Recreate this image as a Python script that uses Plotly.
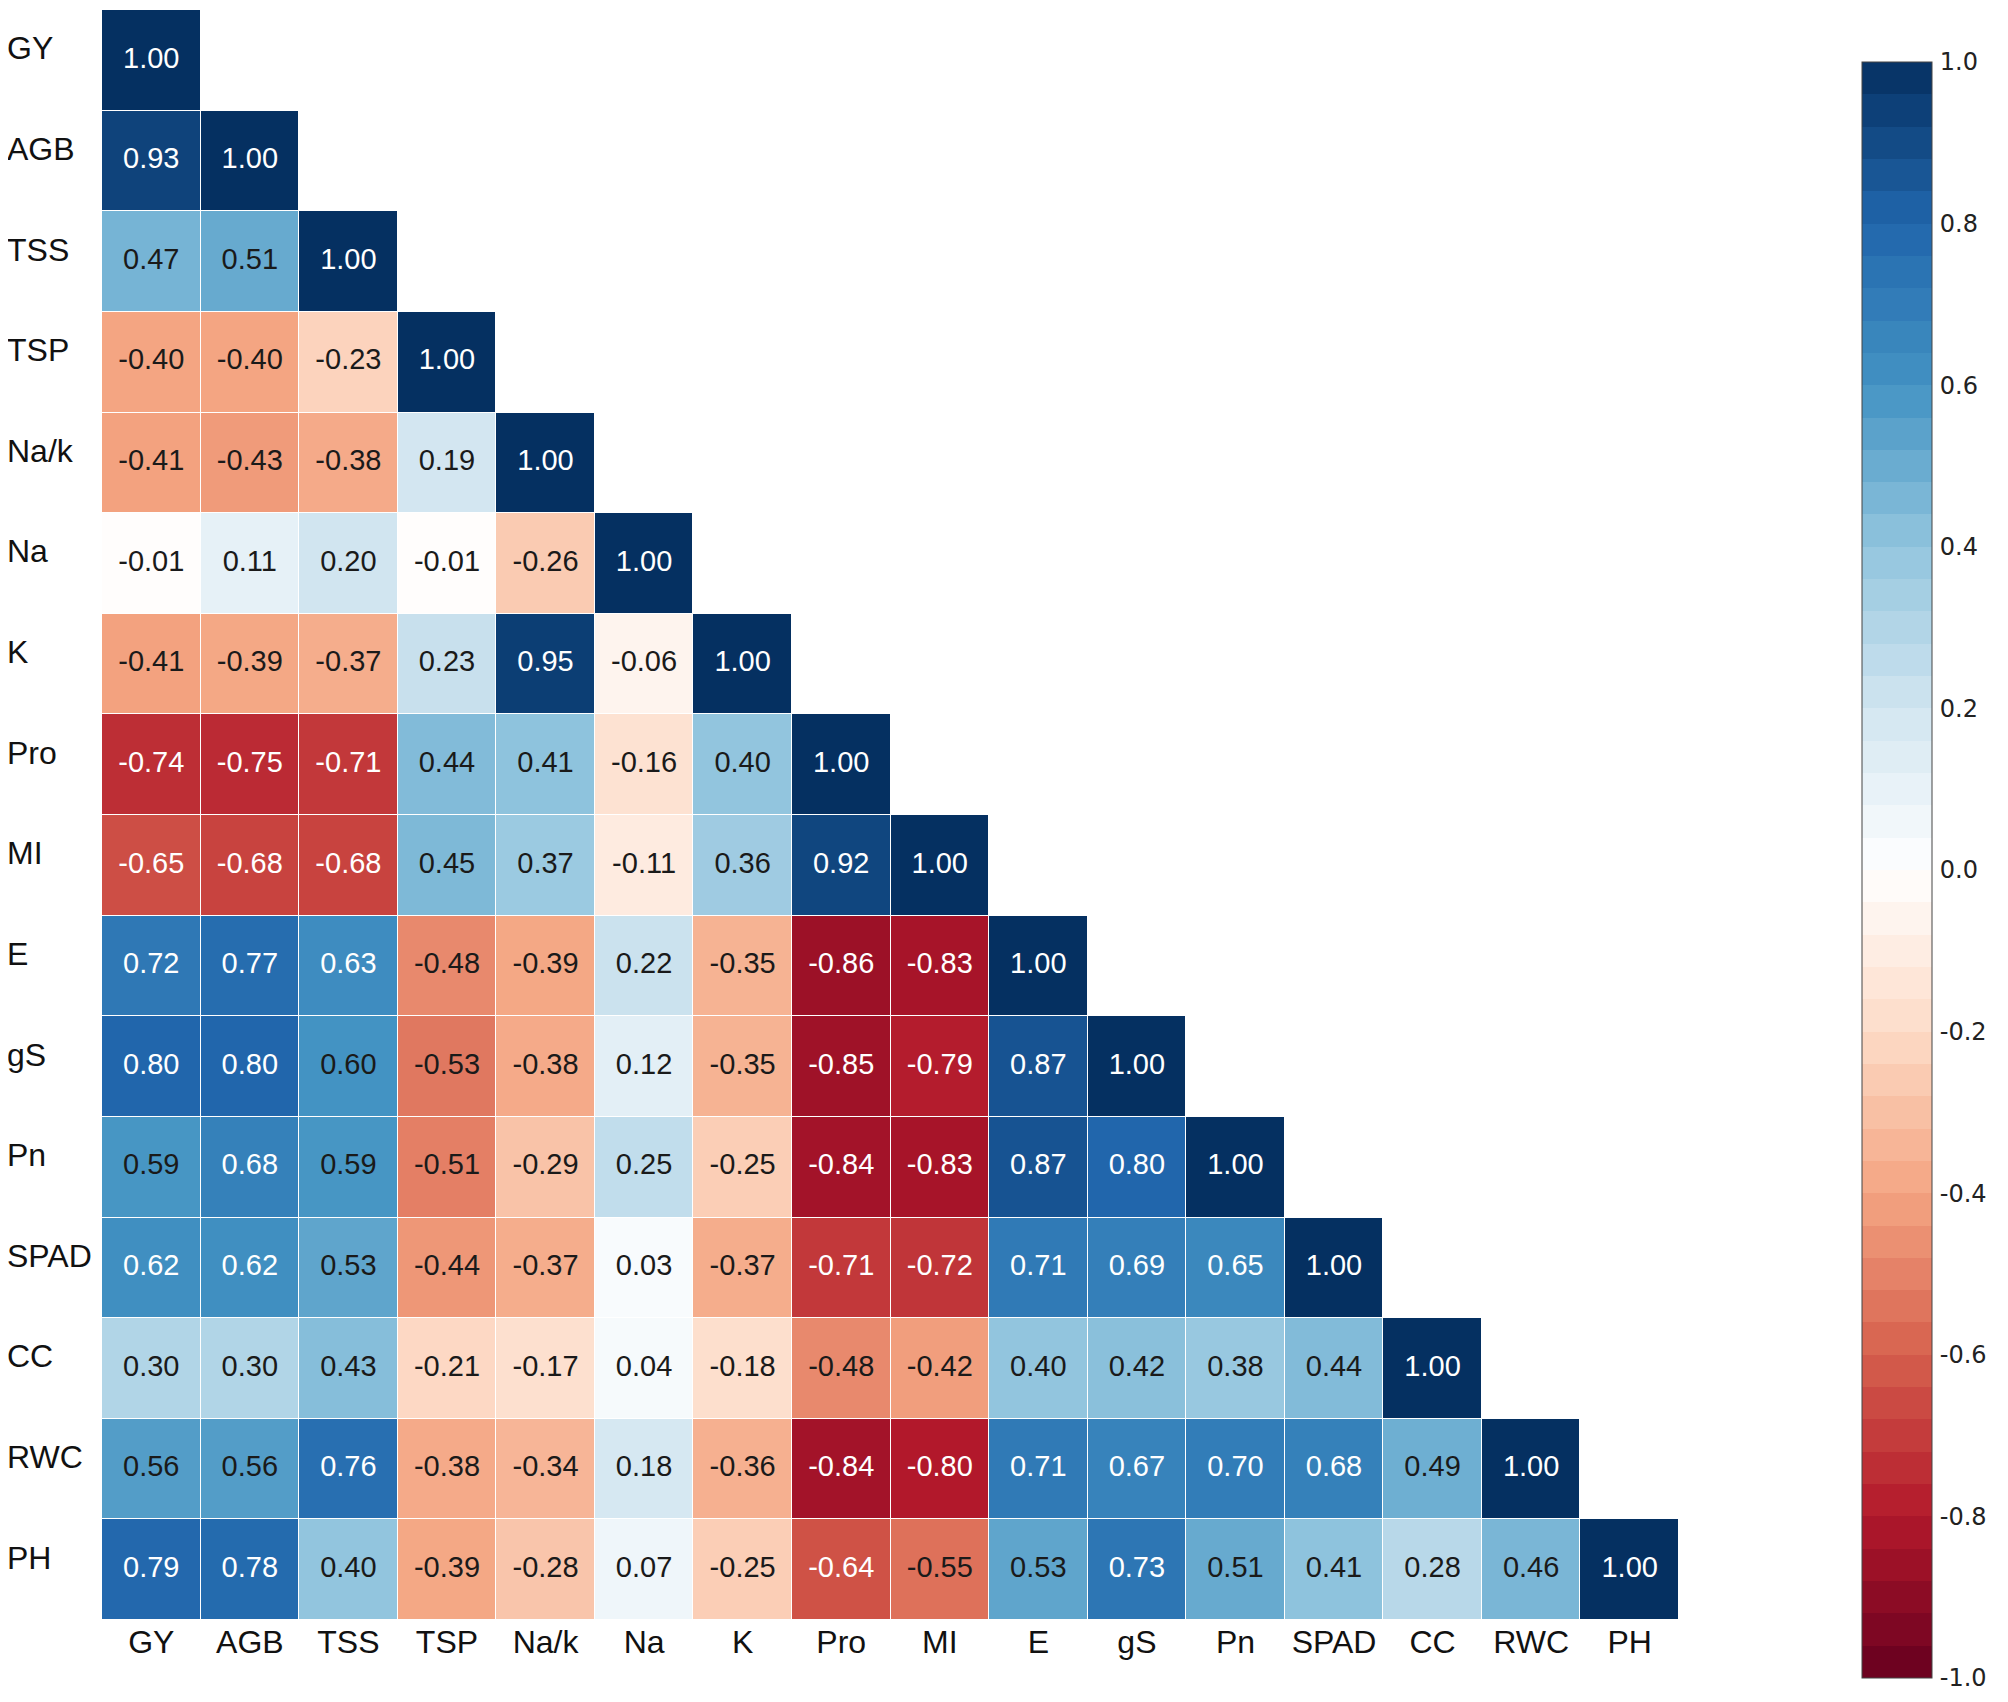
import plotly.graph_objects as go

# ---------------- data ----------------
labels = ["GY", "AGB", "TSS", "TSP", "Na/k", "Na", "K", "Pro", "MI",
          "E", "gS", "Pn", "SPAD", "CC", "RWC", "PH"]

r_GY   = [1.00]
r_AGB  = [0.93, 1.00]
r_TSS  = [0.47, 0.51, 1.00]
r_TSP  = [-0.40, -0.40, -0.23, 1.00]
r_NaK  = [-0.41, -0.43, -0.38, 0.19, 1.00]
r_Na   = [-0.01, 0.11, 0.20, -0.01, -0.26, 1.00]
r_K    = [-0.41, -0.39, -0.37, 0.23, 0.95, -0.06, 1.00]
r_Pro  = [-0.74, -0.75, -0.71, 0.44, 0.41, -0.16, 0.40, 1.00]
r_MI   = [-0.65, -0.68, -0.68, 0.45, 0.37, -0.11, 0.36, 0.92, 1.00]
r_E    = [0.72, 0.77, 0.63, -0.48, -0.39, 0.22, -0.35, -0.86, -0.83, 1.00]
r_gS   = [0.80, 0.80, 0.60, -0.53, -0.38, 0.12, -0.35, -0.85, -0.79, 0.87, 1.00]
r_Pn   = [0.59, 0.68, 0.59, -0.51, -0.29, 0.25, -0.25, -0.84, -0.83, 0.87, 0.80, 1.00]
r_SPAD = [0.62, 0.62, 0.53, -0.44, -0.37, 0.03, -0.37, -0.71, -0.72, 0.71, 0.69, 0.65, 1.00]
r_CC   = [0.30, 0.30, 0.43, -0.21, -0.17, 0.04, -0.18, -0.48, -0.42, 0.40, 0.42, 0.38, 0.44, 1.00]
r_RWC  = [0.56, 0.56, 0.76, -0.38, -0.34, 0.18, -0.36, -0.84, -0.80, 0.71, 0.67, 0.70, 0.68, 0.49, 1.00]
r_PH   = [0.79, 0.78, 0.40, -0.39, -0.28, 0.07, -0.25, -0.64, -0.55, 0.53, 0.73, 0.51, 0.41, 0.28, 0.46, 1.00]

rows = [r_GY, r_AGB, r_TSS, r_TSP, r_NaK, r_Na, r_K, r_Pro, r_MI,
        r_E, r_gS, r_Pn, r_SPAD, r_CC, r_RWC, r_PH]

cbar_tickvals = [-1.0, -0.8, -0.6, -0.4, -0.2, 0.0, 0.2, 0.4, 0.6, 0.8, 1.0]
cbar_ticktext = ["-1.0", "-0.8", "-0.6", "-0.4", "-0.2", "0.0", "0.2", "0.4", "0.6", "0.8", "1.0"]

# ---------------- styling ----------------
base_cols = ["#67001F", "#B2182B", "#D6604D", "#F4A582", "#FDDBC7", "#FFFFFF",
             "#D1E5F0", "#92C5DE", "#4393C3", "#2166AC", "#053061"]


def hex2rgb(h):
    h = h.lstrip("#")
    return tuple(int(h[i:i + 2], 16) for i in (0, 2, 4))


def interp(t):
    n = len(base_cols) - 1
    p = t * n
    i = min(int(p), n - 1)
    f = p - i
    a, b = hex2rgb(base_cols[i]), hex2rgb(base_cols[i + 1])
    c = [round(a[k] + (b[k] - a[k]) * f) for k in range(3)]
    return "rgb(%d,%d,%d)" % tuple(c)


cont_scale = [[i / (len(base_cols) - 1), c] for i, c in enumerate(base_cols)]

nb = 50
step_scale = []
for i in range(nb):
    col = interp((i + 0.5) / nb)
    step_scale.append([i / nb, col])
    step_scale.append([(i + 1) / nb, col])

# ---------------- build matrix ----------------
n = len(labels)
z = []
for i in range(n):
    row = []
    for j in range(n):
        row.append(rows[i][j] if j <= i else None)
    z.append(row)

tx, ty, tt, tc = [], [], [], []
for i in range(n):
    for j in range(i + 1):
        v = rows[i][j]
        tx.append(labels[j])
        ty.append(labels[i])
        tt.append("%.2f" % v)
        tc.append("#FFFFFF" if abs(v) > 0.605 else "#1a1a1a")

FONT = "Liberation Sans, Arial, sans-serif"
CB_FONT = "DejaVu Sans, Liberation Sans, sans-serif"

W, H = 2008, 1702
OFF = 8  # page offset of the rendered figure
L, T = 102 - OFF, 10 - OFF
plot_w, plot_h = 1577, 1610
R = W - L - plot_w
B = H - T - plot_h

# colorbar target box (page pixels)
cb_left, cb_top, cb_bot = 1862 - OFF, 62 - OFF, 1678 - OFF

fig = go.Figure()
fig.add_trace(go.Heatmap(
    z=z, x=labels, y=labels,
    colorscale=cont_scale, zmin=-1, zmax=1,
    showscale=False, xgap=1, ygap=1, hoverongaps=False,
))
fig.add_trace(go.Scatter(
    x=tx, y=ty, text=tt, mode="text",
    textfont=dict(family=FONT, size=29, color=tc),
    hoverinfo="skip", showlegend=False,
))
# colorbar carrier
fig.add_trace(go.Scatter(
    x=[labels[0], labels[0]], y=[labels[0], labels[0]], mode="markers",
    marker=dict(color=[-1, 1], cmin=-1, cmax=1, colorscale=step_scale,
                opacity=0, size=1, showscale=True,
                colorbar=dict(
                    thickness=70, thicknessmode="pixels",
                    len=(cb_bot - cb_top) / plot_h, lenmode="fraction",
                    x=(cb_left - L) / plot_w, xanchor="left", xpad=0,
                    y=(T + plot_h - cb_bot) / plot_h, yanchor="bottom", ypad=0,
                    outlinewidth=1, outlinecolor="#444444",
                    tickmode="array", tickvals=cbar_tickvals, ticktext=cbar_ticktext,
                    ticks="outside", ticklen=3, tickcolor="rgba(0,0,0,0)",
                    tickfont=dict(family=CB_FONT, size=24, color="#222222"),
                )),
    hoverinfo="skip", showlegend=False,
))

for lab in labels:
    fig.add_annotation(
        x=(5 - OFF - L) / plot_w, xref="paper", xanchor="left",
        y=lab, yref="y", yanchor="middle", yshift=12,
        text=lab, showarrow=False,
        font=dict(family=FONT, size=32, color="#111111"),
    )

fig.update_layout(
    width=W, height=H,
    margin=dict(l=L, r=R, t=T, b=B, pad=0, autoexpand=False),
    paper_bgcolor="white", plot_bgcolor="white",
    showlegend=False,
    xaxis=dict(type="category", categoryorder="array", categoryarray=labels,
               range=[-0.5, n - 0.5], autorange=False,
               showgrid=False, zeroline=False, showline=False, ticks="",
               automargin=False,
               tickfont=dict(family=FONT, size=32, color="#111111"),
               fixedrange=True),
    yaxis=dict(type="category", categoryorder="array", categoryarray=labels,
               range=[n - 0.5, -0.5], autorange=False,
               showgrid=False, zeroline=False,
               automargin=False,
               showline=False, ticks="", showticklabels=False, fixedrange=True),
)

fig.write_html("out.html")
